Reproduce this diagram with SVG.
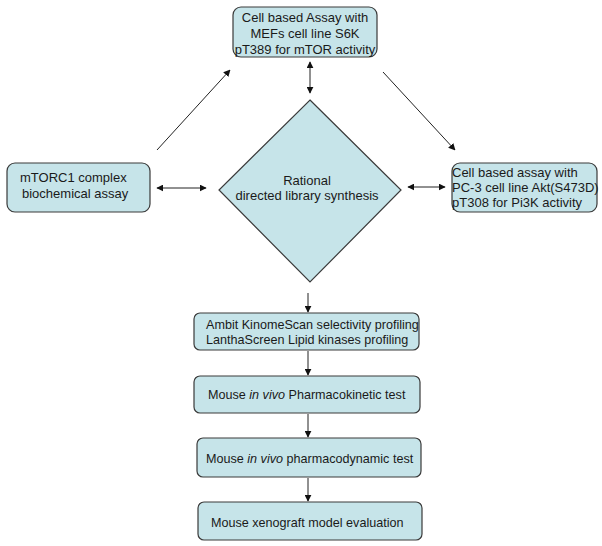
<svg xmlns="http://www.w3.org/2000/svg" width="602" height="546" viewBox="0 0 602 546">
<style>
.box{fill:#c6e4e9;stroke:#3a3a3a;stroke-width:1.2}
.t{font-family:"Liberation Sans",Arial,sans-serif;font-size:13px;fill:#1a1a1a}
.s{font-family:"Liberation Sans",Arial,sans-serif;font-size:12.6px;fill:#1a1a1a}
.c{text-anchor:middle}
.ln{stroke:#222;stroke-width:1;fill:none}
</style>
<defs>
<marker id="ah" viewBox="0 0 10 10" refX="9" refY="5" markerWidth="7" markerHeight="7" orient="auto-start-reverse" markerUnits="userSpaceOnUse">
<path d="M0,0 L10,5 L0,10 z" fill="#111"/>
</marker>
</defs>
<rect width="602" height="546" fill="#fff"/>
<g id="connectors">
<line class="ln" x1="157" y1="150" x2="230" y2="70" marker-end="url(#ah)"/>
<line class="ln" x1="383" y1="72" x2="455" y2="150" marker-end="url(#ah)"/>
<line class="ln" x1="310" y1="62" x2="310" y2="93" marker-start="url(#ah)" marker-end="url(#ah)"/>
<line class="ln" x1="157" y1="188" x2="206" y2="188" marker-start="url(#ah)" marker-end="url(#ah)"/>
<line class="ln" x1="408" y1="187" x2="445" y2="187" marker-start="url(#ah)" marker-end="url(#ah)"/>
<line class="ln" x1="308" y1="293" x2="308" y2="312" marker-end="url(#ah)"/>
<line class="ln" x1="308" y1="351" x2="308" y2="375" marker-end="url(#ah)"/>
<line class="ln" x1="308" y1="414" x2="308" y2="437" marker-end="url(#ah)"/>
<line class="ln" x1="308" y1="478" x2="308" y2="501" marker-end="url(#ah)"/>
</g>
<g id="top">
<rect class="box" x="233" y="7" width="144" height="50" rx="8"/>
<text class="t c" x="305" y="22">Cell based Assay with</text>
<text class="t c" x="305" y="38">MEFs cell line S6K</text>
<text class="t c" x="305" y="54">pT389 for mTOR activity</text>
</g>
<g id="left">
<rect class="box" x="7" y="163" width="143" height="49" rx="8"/>
<text class="t" x="20" y="182">mTORC1 complex</text>
<text class="t" x="22" y="198">biochemical assay</text>
</g>
<g id="right">
<rect class="box" x="452" y="163" width="145" height="49" rx="8"/>
<text class="t" x="452" y="177">Cell based assay with</text>
<text class="t" x="452" y="192">PC-3 cell line Akt(S473D)</text>
<text class="t" x="452" y="207">pT308 for Pi3K activity</text>
</g>
<g id="diamond">
<polygon class="box" points="310,100 401,190 310,282 219,190"/>
<text class="t c" x="307" y="185">Rational</text>
<text class="t c" x="307" y="200">directed library synthesis</text>
</g>
<g id="ambit">
<rect class="box" x="194" y="313" width="225" height="37" rx="6"/>
<text class="s" x="206" y="329">Ambit KinomeScan selectivity profiling</text>
<text class="s" x="206" y="344">LanthaScreen Lipid kinases profiling</text>
</g>
<g id="pk">
<rect class="box" x="194" y="376" width="226" height="37" rx="6"/>
<text class="s" x="208" y="399">Mouse <tspan font-style="italic">in vivo</tspan> Pharmacokinetic test</text>
</g>
<g id="pd">
<rect class="box" x="197" y="438" width="224" height="39" rx="6"/>
<text class="s" x="206" y="463">Mouse <tspan font-style="italic">in vivo</tspan> pharmacodynamic test</text>
</g>
<g id="xeno">
<rect class="box" x="198" y="502" width="224" height="38" rx="6"/>
<text class="s" x="211" y="527">Mouse xenograft model evaluation</text>
</g>
</svg>
